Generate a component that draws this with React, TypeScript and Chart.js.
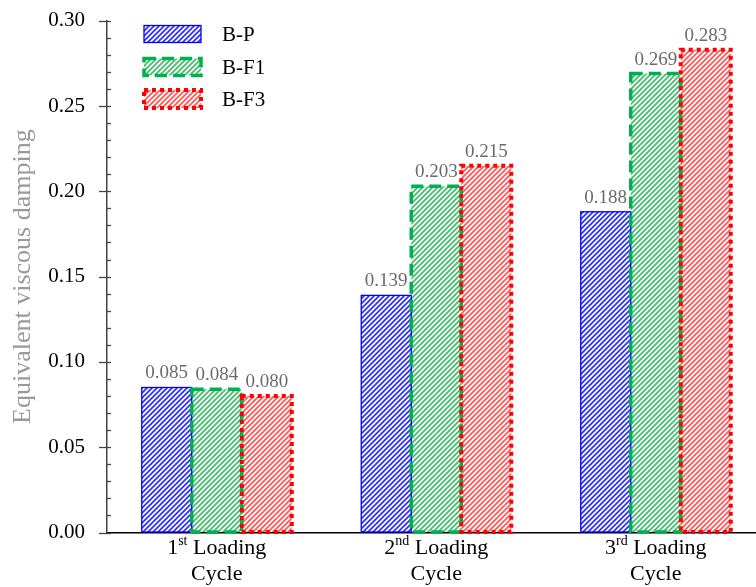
import React, { useEffect, useRef } from 'react';
import { Chart, registerables } from 'chart.js';

Chart.register(...registerables);

const categories = ['1st Loading Cycle', '2nd Loading Cycle', '3rd Loading Cycle'];
const seriesNames = ['B-P', 'B-F1', 'B-F3'];
const bpValues = [0.085, 0.139, 0.188];
const bf1Values = [0.084, 0.203, 0.269];
const bf3Values = [0.080, 0.215, 0.283];
const yTickValues = [0, 0.05, 0.1, 0.15, 0.2, 0.25, 0.3];
const yAxisTitle = 'Equivalent viscous damping';

const SERIF = "'Liberation Serif', 'Times New Roman', serif";

const seriesStyles = [
  { hatch: 'rgb(50,50,255)', border: '#0000ff', width: 1.3, dash: [] as number[] },
  { hatch: 'rgb(70,190,110)', border: 'rgb(0,176,80)', width: 3.5, dash: [12, 6] },
  { hatch: 'rgb(255,90,90)', border: '#ff0000', width: 4, dash: [4, 4] },
];

function makeHatch(color: string): CanvasPattern {
  const p = 5;
  const c = document.createElement('canvas');
  c.width = p;
  c.height = p;
  const g = c.getContext('2d')!;
  g.fillStyle = '#ffffff';
  g.fillRect(0, 0, p, p);
  g.strokeStyle = color;
  g.lineWidth = 1.8;
  g.beginPath();
  g.moveTo(-1, p + 1);
  g.lineTo(p + 1, -1);
  g.moveTo(-1, 1);
  g.lineTo(1, -1);
  g.moveTo(p - 1, p + 1);
  g.lineTo(p + 1, p - 1);
  g.stroke();
  return g.createPattern(c, 'repeat')!;
}

const decoPlugin = {
  id: 'deco',
  afterDatasetsDraw(chart: any) {
    const ctx: CanvasRenderingContext2D = chart.ctx;
    // bar borders
    chart.data.datasets.forEach((ds: any, i: number) => {
      const meta = chart.getDatasetMeta(i);
      const st = seriesStyles[i];
      meta.data.forEach((el: any) => {
        const { x, y, base, width } = el.getProps(['x', 'y', 'base', 'width'], true);
        ctx.save();
        ctx.strokeStyle = st.border;
        ctx.lineWidth = st.width;
        ctx.setLineDash(st.dash);
        ctx.strokeRect(x - width / 2, y, width, base - y);
        ctx.restore();
      });
    });
    // value labels
    chart.data.datasets.forEach((ds: any, i: number) => {
      const meta = chart.getDatasetMeta(i);
      meta.data.forEach((el: any, j: number) => {
        const { x, y } = el.getProps(['x', 'y'], true);
        ctx.save();
        ctx.font = `19px ${SERIF}`;
        ctx.fillStyle = '#6b6b6b';
        ctx.textAlign = 'center';
        ctx.textBaseline = 'alphabetic';
        ctx.fillText(Number(ds.data[j]).toFixed(3), x, y - 9);
        ctx.restore();
      });
    });
  },
  afterDraw(chart: any) {
    const ctx: CanvasRenderingContext2D = chart.ctx;
    const ys = chart.scales.y;
    const xs = chart.scales.x;
    const axisX = chart.chartArea.left;
    // y ticks (major + minor)
    ctx.save();
    ctx.strokeStyle = '#444';
    ctx.lineWidth = 1.3;
    for (let i = 0; i <= 30; i++) {
      const py = Math.round(ys.getPixelForValue(i / 100)) + 0.5;
      const major = i % 5 === 0;
      ctx.beginPath();
      ctx.moveTo(major ? axisX - 8 : axisX, py);
      ctx.lineTo(axisX + 4, py);
      ctx.stroke();
    }
    ctx.restore();
    // x labels with superscripts
    categories.forEach((lab, i) => {
      const m = /^(\d+)([a-z]+) (.+) (\S+)$/.exec(lab);
      if (!m) return;
      const cx = xs.getPixelForTick(i);
      ctx.save();
      ctx.fillStyle = '#000';
      ctx.textBaseline = 'alphabetic';
      ctx.textAlign = 'left';
      const big = `22px ${SERIF}`;
      const small = `14px ${SERIF}`;
      ctx.font = big;
      const wNum = ctx.measureText(m[1]).width;
      const rest = ' ' + m[3];
      const wRest = ctx.measureText(rest).width;
      ctx.font = small;
      const wSup = ctx.measureText(m[2]).width;
      let x0 = cx - (wNum + wSup + wRest) / 2;
      const base1 = 554;
      ctx.font = big;
      ctx.fillText(m[1], x0, base1);
      x0 += wNum;
      ctx.font = small;
      ctx.fillText(m[2], x0, base1 - 9);
      x0 += wSup;
      ctx.font = big;
      ctx.fillText(rest, x0, base1);
      ctx.textAlign = 'center';
      ctx.fillText(m[4], cx, 580);
      ctx.restore();
    });
    // legend
    const rows = [34, 67, 99];
    chart.data.datasets.forEach((ds: any, i: number) => {
      const st = seriesStyles[i];
      const cy = rows[i];
      const bx = 144;
      const bw = 57;
      const bh = i === 2 ? 18 : 17;
      ctx.save();
      ctx.fillStyle = ds.backgroundColor;
      ctx.fillRect(bx, cy - bh / 2, bw, bh);
      ctx.strokeStyle = st.border;
      ctx.lineWidth = st.width;
      ctx.setLineDash(st.dash);
      ctx.strokeRect(bx, cy - bh / 2, bw, bh);
      ctx.setLineDash([]);
      ctx.font = `21px ${SERIF}`;
      ctx.fillStyle = '#000';
      ctx.textAlign = 'left';
      ctx.textBaseline = 'middle';
      ctx.fillText(ds.label, 222, cy + 1);
      ctx.restore();
    });
  },
};

export default function App() {
  const ref = useRef<HTMLCanvasElement>(null);
  useEffect(() => {
    if (!ref.current) return;
    const values = [bpValues, bf1Values, bf3Values];
    const chart = new Chart(ref.current, {
      type: 'bar',
      data: {
        labels: categories,
        datasets: values.map((v, i) => ({
          label: seriesNames[i],
          data: v,
          backgroundColor: makeHatch(seriesStyles[i].hatch),
          borderWidth: 0,
          categoryPercentage: 0.6834,
          barPercentage: 1,
        })),
      },
      options: {
        responsive: false,
        animation: false,
        devicePixelRatio: 1,
        layout: { padding: { top: 20.7, right: 14.5, left: 0, bottom: 0 } },
        plugins: {
          legend: { display: false },
          tooltip: { enabled: false },
        },
        scales: {
          x: {
            type: 'category',
            grid: { display: true, drawOnChartArea: false, drawTicks: false },
            border: { display: true, color: '#000', width: 1.5 },
            ticks: { display: false },
            afterFit: (s: any) => {
              s.height = 54.5;
            },
          },
          y: {
            min: 0,
            max: 0.3,
            grid: {
              display: true,
              drawOnChartArea: false,
              drawTicks: true,
              tickLength: 22,
              tickColor: 'rgba(0,0,0,0)',
            },
            border: { display: true, color: '#444', width: 1.5 },
            afterBuildTicks: (s: any) => {
              s.ticks = yTickValues.map((v) => ({ value: v }));
            },
            ticks: {
              padding: 0,
              color: '#000',
              font: { family: SERIF, size: 21 },
              callback: (v: any) => Number(v).toFixed(2),
            },
            title: {
              display: true,
              text: yAxisTitle,
              color: '#9a9a9a',
              font: { family: SERIF, size: 26 },
              padding: { top: 8, bottom: 0 },
            },
            afterFit: (s: any) => {
              s.width = 107;
            },
          },
        },
      },
      plugins: [decoPlugin],
    });
    return () => chart.destroy();
  }, []);
  return (
    <div
      style={{
        position: 'fixed',
        left: 0,
        top: 0,
        width: 756,
        height: 587,
        overflow: 'hidden',
        background: '#fff',
      }}
    >
      <canvas ref={ref} width={780} height={587} style={{ display: 'block' }} />
    </div>
  );
}
